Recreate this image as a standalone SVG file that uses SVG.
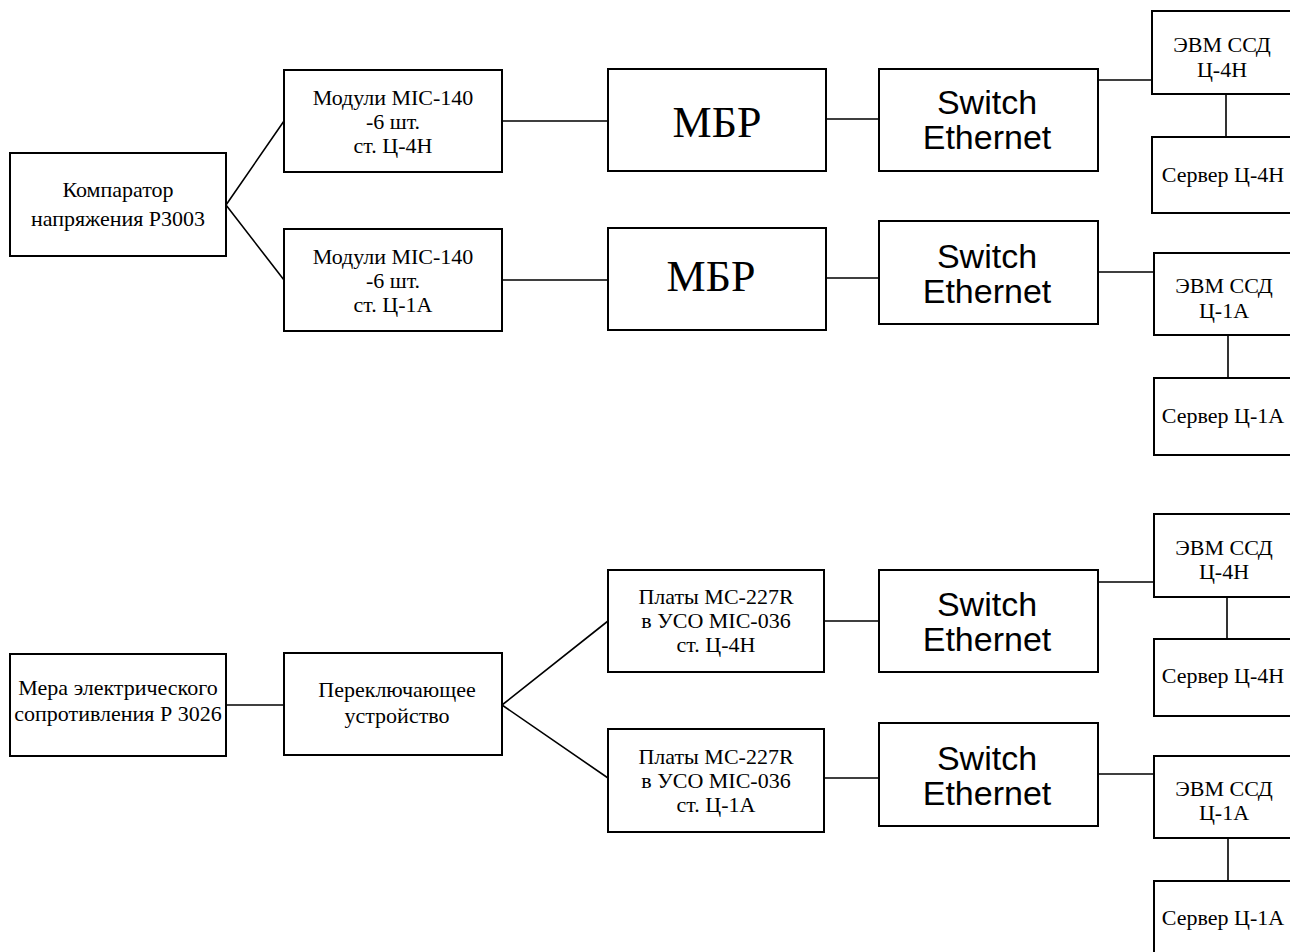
<svg xmlns="http://www.w3.org/2000/svg" width="1290" height="952" viewBox="0 0 1290 952">
<style>
.b{fill:#fff;stroke:#000;stroke-width:2}
.t{font-family:"Liberation Serif","Times New Roman",serif;font-size:22px;text-anchor:middle;fill:#000}
.m{font-family:"Liberation Serif","Times New Roman",serif;font-size:44px;text-anchor:middle;fill:#000}
.s{font-family:"Liberation Sans",Arial,sans-serif;font-size:34px;text-anchor:middle;fill:#000}
.c{stroke:#000;stroke-width:1.6;fill:none}
</style>
<rect width="1290" height="952" fill="#fff"/>
<g id="connectors">
<path class="c" d="M226 205L284 121M226 205L284 280"/>
<path class="c" d="M502 121H608M502 280H608"/>
<path class="c" d="M826 119H879M826 278H879"/>
<path class="c" d="M1098 80H1152M1098 272H1154"/>
<path class="c" d="M1226 94V137M1228 335V378"/>
<path class="c" d="M226 705H284"/>
<path class="c" d="M502 705L608 621M502 705L608 778"/>
<path class="c" d="M824 621H879M824 778H879"/>
<path class="c" d="M1098 582H1154M1098 774H1154"/>
<path class="c" d="M1227 597V639M1228 838V881"/>
</g>
<g id="komparator"><rect class="b" x="10" y="153" width="216" height="103"/>
<text class="t" x="118" y="197">Компаратор</text><text class="t" x="118" y="226">напряжения Р3003</text></g>
<g id="mod4h"><rect class="b" x="284" y="70" width="218" height="102"/>
<text class="t" x="393" y="105">Модули MIC-140</text><text class="t" x="393" y="129">-6 шт.</text><text class="t" x="393" y="153">ст. Ц-4Н</text></g>
<g id="mod1a"><rect class="b" x="284" y="229" width="218" height="102"/>
<text class="t" x="393" y="264">Модули MIC-140</text><text class="t" x="393" y="288">-6 шт.</text><text class="t" x="393" y="312">ст. Ц-1А</text></g>
<g id="mbr1"><rect class="b" x="608" y="69" width="218" height="102"/><text class="m" x="717" y="137">МБР</text></g>
<g id="mbr2"><rect class="b" x="608" y="228" width="218" height="102"/><text class="m" x="711" y="291">МБР</text></g>
<g id="sw1"><rect class="b" x="879" y="69" width="219" height="102"/>
<text class="s" x="987" y="114">Switch</text><text class="s" x="987" y="149">Ethernet</text></g>
<g id="sw2"><rect class="b" x="879" y="221" width="219" height="103"/>
<text class="s" x="987" y="268">Switch</text><text class="s" x="987" y="303">Ethernet</text></g>
<g id="evm1"><rect class="b" x="1152" y="11" width="145" height="83"/>
<text class="t" x="1222" y="52">ЭВМ ССД</text><text class="t" x="1222" y="77">Ц-4Н</text></g>
<g id="srv1"><rect class="b" x="1152" y="137" width="145" height="76"/><text class="t" x="1223" y="182">Сервер Ц-4Н</text></g>
<g id="evm2"><rect class="b" x="1154" y="253" width="145" height="82"/>
<text class="t" x="1224" y="293">ЭВМ ССД</text><text class="t" x="1224" y="318">Ц-1А</text></g>
<g id="srv2"><rect class="b" x="1154" y="378" width="145" height="77"/><text class="t" x="1223" y="423">Сервер Ц-1А</text></g>
<g id="mera"><rect class="b" x="10" y="654" width="216" height="102"/>
<text class="t" x="118" y="695">Мера электрического</text><text class="t" x="118" y="721">сопротивления Р 3026</text></g>
<g id="pereklyuch"><rect class="b" x="284" y="653" width="218" height="102"/>
<text class="t" x="397" y="697">Переключающее</text><text class="t" x="397" y="723">устройство</text></g>
<g id="platy4h"><rect class="b" x="608" y="570" width="216" height="102"/>
<text class="t" x="716" y="604">Платы МС-227R</text><text class="t" x="716" y="628">в УСО MIC-036</text><text class="t" x="716" y="652">ст. Ц-4Н</text></g>
<g id="platy1a"><rect class="b" x="608" y="729" width="216" height="103"/>
<text class="t" x="716" y="764">Платы МС-227R</text><text class="t" x="716" y="788">в УСО MIC-036</text><text class="t" x="716" y="812">ст. Ц-1А</text></g>
<g id="sw3"><rect class="b" x="879" y="570" width="219" height="102"/>
<text class="s" x="987" y="616">Switch</text><text class="s" x="987" y="651">Ethernet</text></g>
<g id="sw4"><rect class="b" x="879" y="723" width="219" height="103"/>
<text class="s" x="987" y="770">Switch</text><text class="s" x="987" y="805">Ethernet</text></g>
<g id="evm3"><rect class="b" x="1154" y="514" width="145" height="83"/>
<text class="t" x="1224" y="555">ЭВМ ССД</text><text class="t" x="1224" y="579">Ц-4Н</text></g>
<g id="srv3"><rect class="b" x="1154" y="639" width="145" height="77"/><text class="t" x="1223" y="683">Сервер Ц-4Н</text></g>
<g id="evm4"><rect class="b" x="1154" y="756" width="145" height="82"/>
<text class="t" x="1224" y="796">ЭВМ ССД</text><text class="t" x="1224" y="820">Ц-1А</text></g>
<g id="srv4"><rect class="b" x="1154" y="881" width="145" height="80"/><text class="t" x="1223" y="925">Сервер Ц-1А</text></g>
</svg>
